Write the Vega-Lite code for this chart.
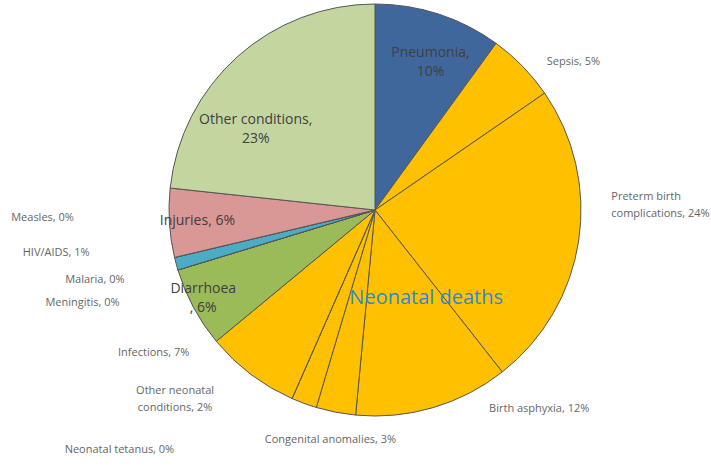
{
  "$schema": "https://vega.github.io/schema/vega-lite/v6.json",
  "width": 412,
  "height": 412,
  "autosize": {"type": "none"},
  "padding": {"left": 169, "top": 4, "right": 130, "bottom": 59},
  "background": "white",
  "config": {"view": {"stroke": null}},
  "data": {
    "values": [
      {"order": 1, "cat": "Pneumonia", "value": 10.0, "label": "Pneumonia,\n10%"},
      {"order": 2, "cat": "Sepsis", "value": 5.4, "label": "Sepsis, 5%"},
      {"order": 3, "cat": "Preterm", "value": 24.0, "label": "Preterm birth\ncomplications, 24%"},
      {"order": 4, "cat": "Asphyxia", "value": 12.1, "label": "Birth asphyxia, 12%"},
      {"order": 5, "cat": "Congenital", "value": 3.1, "label": "Congenital anomalies, 3%"},
      {"order": 6, "cat": "OtherNeonatal", "value": 2.0, "label": "Other neonatal\nconditions, 2%"},
      {"order": 7, "cat": "Tetanus", "value": 0, "label": "Neonatal tetanus, 0%"},
      {"order": 8, "cat": "Infections", "value": 7.4, "label": "Infections, 7%"},
      {"order": 9, "cat": "Diarrhoea", "value": 6.3, "label": "Diarrhoea\n, 6%"},
      {"order": 10, "cat": "Meningitis", "value": 0, "label": "Meningitis, 0%"},
      {"order": 11, "cat": "Malaria", "value": 0, "label": "Malaria, 0%"},
      {"order": 12, "cat": "HIV/AIDS", "value": 1.0, "label": "HIV/AIDS, 1%"},
      {"order": 13, "cat": "Measles", "value": 0, "label": "Measles, 0%"},
      {"order": 14, "cat": "Injuries", "value": 5.4, "label": "Injuries, 6%"},
      {"order": 15, "cat": "Other", "value": 23.3, "label": "Other conditions,\n23%"}
    ]
  },
  "encoding": {
    "theta": {"field": "value", "type": "quantitative", "stack": true},
    "order": {"field": "order", "type": "quantitative"}
  },
  "layer": [
    {
      "mark": {"type": "arc", "stroke": "#555555", "strokeWidth": 1},
      "encoding": {
        "color": {
          "field": "cat", "type": "nominal", "legend": null,
          "scale": {
            "domain": ["Pneumonia", "Sepsis", "Preterm", "Asphyxia", "Congenital", "OtherNeonatal", "Tetanus", "Infections", "Diarrhoea", "Meningitis", "Malaria", "HIV/AIDS", "Measles", "Injuries", "Other"],
            "range": ["#3F679C", "#FFC000", "#FFC000", "#FFC000", "#FFC000", "#FFC000", "#FFC000", "#FFC000", "#9BBB59", "#4BACC6", "#4BACC6", "#4BACC6", "#4BACC6", "#D99795", "#C4D6A0"]
          }
        }
      }
    },
    {
      "mark": {"type": "text", "radius": 160, "dx": 6, "dy": -5, "align": "center", "baseline": "middle", "lineBreak": "\n", "lineHeight": 19, "font": "Open Sans", "fontSize": 14, "color": "#404040"},
      "encoding": {"text": {"condition": {"test": "datum.cat === 'Pneumonia'", "field": "label"}, "value": ""}}
    },
    {
      "mark": {"type": "text", "radius": 150, "dx": -19, "dy": 22, "align": "center", "baseline": "middle", "lineBreak": "\n", "lineHeight": 19, "font": "Open Sans", "fontSize": 14, "color": "#404040"},
      "encoding": {"text": {"condition": {"test": "datum.cat === 'Other'", "field": "label"}, "value": ""}}
    },
    {
      "mark": {"type": "text", "radius": 178, "align": "center", "baseline": "middle", "lineBreak": "\n", "font": "Open Sans", "fontSize": 14, "color": "#404040"},
      "encoding": {"text": {"condition": {"test": "datum.cat === 'Injuries'", "field": "label"}, "value": ""}}
    },
    {
      "mark": {"type": "text", "radius": 195, "dy": -13, "align": "center", "baseline": "middle", "lineBreak": "\n", "lineHeight": 19, "font": "Open Sans", "fontSize": 14, "color": "#404040"},
      "encoding": {"text": {"condition": {"test": "datum.cat === 'Diarrhoea'", "field": "label"}, "value": ""}}
    },
    {
      "mark": {"type": "text", "radius": 100, "dx": 23, "dy": -8, "align": "center", "baseline": "middle", "font": "Open Sans", "fontSize": 20, "color": "#2A8BD4"},
      "encoding": {"text": {"condition": {"test": "datum.cat === 'Asphyxia'", "value": "Neonatal deaths"}, "value": ""}}
    },
    {
      "mark": {"type": "text", "radius": 240, "dy": 20, "align": "left", "baseline": "middle", "font": "Open Sans", "fontSize": 11, "color": "#666666"},
      "encoding": {"text": {"condition": {"test": "datum.cat === 'Sepsis'", "field": "label"}, "value": ""}}
    },
    {
      "mark": {"type": "text", "radius": 239, "dy": -49, "align": "left", "baseline": "middle", "lineBreak": "\n", "lineHeight": 17, "font": "Open Sans", "fontSize": 11, "color": "#666666"},
      "encoding": {"text": {"condition": {"test": "datum.cat === 'Preterm'", "field": "label"}, "value": ""}}
    },
    {
      "mark": {"type": "text", "radius": 206, "dx": 56, "dy": 1, "align": "left", "baseline": "middle", "font": "Open Sans", "fontSize": 11, "color": "#666666"},
      "encoding": {"text": {"condition": {"test": "datum.cat === 'Asphyxia'", "field": "label"}, "value": ""}}
    },
    {
      "mark": {"type": "text", "radius": 234, "align": "center", "baseline": "middle", "font": "Open Sans", "fontSize": 11, "color": "#666666"},
      "encoding": {"text": {"condition": {"test": "datum.cat === 'Congenital'", "field": "label"}, "value": ""}}
    },
    {
      "mark": {"type": "text", "radius": 200, "dx": -131, "dy": -7, "align": "center", "baseline": "middle", "lineBreak": "\n", "lineHeight": 17, "font": "Open Sans", "fontSize": 11, "color": "#666666"},
      "encoding": {"text": {"condition": {"test": "datum.cat === 'OtherNeonatal'", "field": "label"}, "value": ""}}
    },
    {
      "mark": {"type": "text", "radius": 262, "dx": -150, "align": "center", "baseline": "middle", "font": "Open Sans", "fontSize": 11, "color": "#666666"},
      "encoding": {"text": {"condition": {"test": "datum.cat === 'Tetanus'", "field": "label"}, "value": ""}}
    },
    {
      "mark": {"type": "text", "radius": 215, "dx": -56, "dy": -29, "align": "right", "baseline": "middle", "font": "Open Sans", "fontSize": 11, "color": "#666666"},
      "encoding": {"text": {"condition": {"test": "datum.cat === 'Infections'", "field": "label"}, "value": ""}}
    },
    {
      "mark": {"type": "text", "radius": 220, "dx": -45, "dy": 29, "align": "right", "baseline": "middle", "font": "Open Sans", "fontSize": 11, "color": "#666666"},
      "encoding": {"text": {"condition": {"test": "datum.cat === 'Meningitis'", "field": "label"}, "value": ""}}
    },
    {
      "mark": {"type": "text", "radius": 220, "dx": -40, "dy": 6, "align": "right", "baseline": "middle", "font": "Open Sans", "fontSize": 11, "color": "#666666"},
      "encoding": {"text": {"condition": {"test": "datum.cat === 'Malaria'", "field": "label"}, "value": ""}}
    },
    {
      "mark": {"type": "text", "radius": 220, "dx": -73, "dy": -14, "align": "right", "baseline": "middle", "font": "Open Sans", "fontSize": 11, "color": "#666666"},
      "encoding": {"text": {"condition": {"test": "datum.cat === 'HIV/AIDS'", "field": "label"}, "value": ""}}
    },
    {
      "mark": {"type": "text", "radius": 220, "dx": -87, "dy": -43, "align": "right", "baseline": "middle", "font": "Open Sans", "fontSize": 11, "color": "#666666"},
      "encoding": {"text": {"condition": {"test": "datum.cat === 'Measles'", "field": "label"}, "value": ""}}
    }
  ]
}
